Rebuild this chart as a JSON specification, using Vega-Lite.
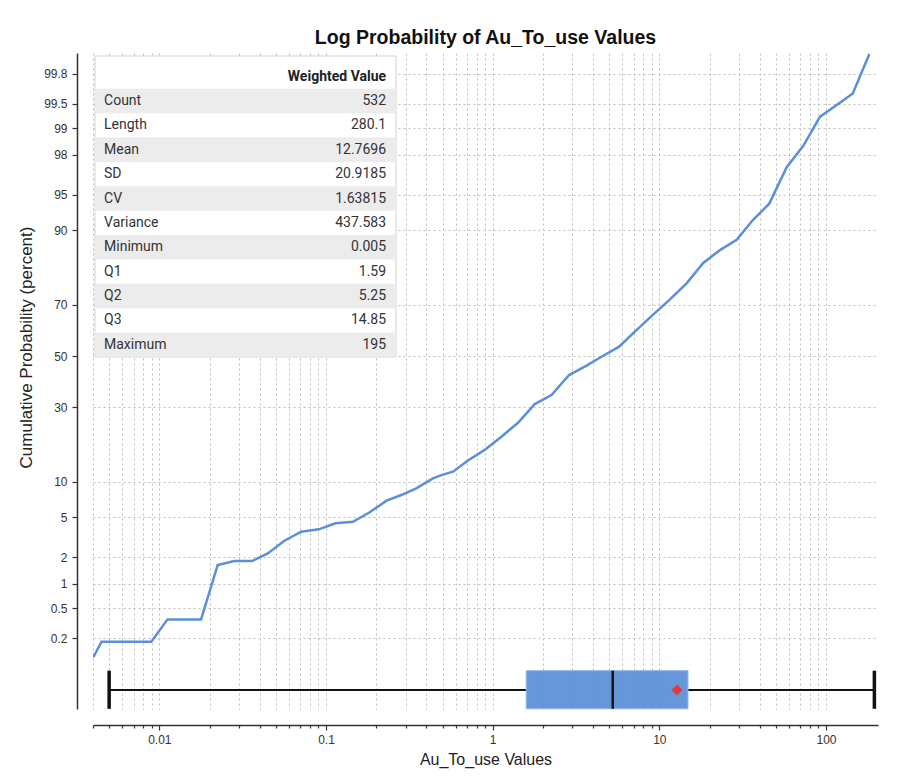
{
  "$schema": "https://vega.github.io/schema/vega-lite/v6.json",
  "width": 785,
  "height": 656,
  "autosize": {"type": "none"},
  "padding": {"left": 93, "top": 53, "right": 28, "bottom": 67},
  "background": "white",
  "title": {
    "text": "Log Probability of Au_To_use Values",
    "font": "Liberation Sans",
    "fontSize": 19.5,
    "fontWeight": "bold",
    "color": "#111111",
    "anchor": "middle",
    "frame": "group",
    "offset": 5
  },
  "datasets": {
    "cdf": [
      {"value": 0.00402, "pct": 0.106},
      {"value": 0.0045, "pct": 0.178},
      {"value": 0.00895, "pct": 0.178},
      {"value": 0.0112, "pct": 0.36},
      {"value": 0.0178, "pct": 0.36},
      {"value": 0.0224, "pct": 1.65},
      {"value": 0.0282, "pct": 1.82},
      {"value": 0.036, "pct": 1.82},
      {"value": 0.0447, "pct": 2.2},
      {"value": 0.0563, "pct": 2.97},
      {"value": 0.071, "pct": 3.65},
      {"value": 0.0905, "pct": 3.85},
      {"value": 0.114, "pct": 4.39},
      {"value": 0.145, "pct": 4.54},
      {"value": 0.181, "pct": 5.49},
      {"value": 0.231, "pct": 7.0},
      {"value": 0.283, "pct": 7.8},
      {"value": 0.348, "pct": 8.85},
      {"value": 0.438, "pct": 10.6},
      {"value": 0.492, "pct": 11.2},
      {"value": 0.578, "pct": 11.9},
      {"value": 0.711, "pct": 14.3},
      {"value": 0.895, "pct": 16.9},
      {"value": 1.128, "pct": 20.5},
      {"value": 1.419, "pct": 24.8},
      {"value": 1.788, "pct": 31.2},
      {"value": 2.253, "pct": 34.5},
      {"value": 2.873, "pct": 42.3},
      {"value": 3.569, "pct": 45.7},
      {"value": 4.497, "pct": 49.7},
      {"value": 5.736, "pct": 53.8},
      {"value": 7.127, "pct": 59.8},
      {"value": 9.104, "pct": 66.2},
      {"value": 11.45, "pct": 71.6},
      {"value": 14.57, "pct": 77.1},
      {"value": 18.33, "pct": 82.9},
      {"value": 23.09, "pct": 86.0},
      {"value": 29.09, "pct": 88.2},
      {"value": 36.29, "pct": 91.7},
      {"value": 45.65, "pct": 94.0},
      {"value": 58.07, "pct": 97.3},
      {"value": 73.06, "pct": 98.4},
      {"value": 92.04, "pct": 99.27},
      {"value": 115.9, "pct": 99.48},
      {"value": 144.7, "pct": 99.63},
      {"value": 182, "pct": 99.897}
    ],
    "stats": [
      {"stat": "Count", "value": 532},
      {"stat": "Length", "value": 280.1},
      {"stat": "Mean", "value": 12.7696},
      {"stat": "SD", "value": 20.9185},
      {"stat": "CV", "value": 1.63815},
      {"stat": "Variance", "value": 437.583},
      {"stat": "Minimum", "value": 0.005},
      {"stat": "Q1", "value": 1.59},
      {"stat": "Q2", "value": 5.25},
      {"stat": "Q3", "value": 14.85},
      {"stat": "Maximum", "value": 195}
    ]
  },
  "config": {
    "view": {"stroke": null},
    "axis": {
      "labelFont": "Liberation Sans",
      "labelFontSize": 12,
      "labelColor": "#333333",
      "titleFont": "Liberation Sans",
      "titleFontSize": 16,
      "titleFontWeight": "normal",
      "titleColor": "#222222",
      "domainColor": "#333333",
      "domainWidth": 1.5,
      "tickColor": "#333333",
      "tickWidth": 1.2,
      "gridColor": "#bdbdbd",
      "gridDash": [2, 3],
      "gridWidth": 1
    }
  },
  "resolve": {"scale": {"x": "independent", "y": "independent"}},
  "layer": [
    {
      "layer": [
        {
          "data": {"name": "cdf"},
          "transform": [
            {"calculate": "quantileNormal(datum.pct / 100)", "as": "z"}
          ],
          "mark": {"type": "line", "color": "#5b8fd9", "strokeWidth": 2.5, "clip": true},
          "encoding": {
            "x": {
              "field": "value",
              "type": "quantitative",
              "scale": {"type": "log", "domain": [0.004, 205], "nice": false},
              "axis": {
                "title": "Au_To_use Values",
                "values": [0.004, 0.005, 0.006, 0.007, 0.008, 0.009, 0.01, 0.02, 0.03, 0.04, 0.05, 0.06, 0.07, 0.08, 0.09, 0.1, 0.2, 0.3, 0.4, 0.5, 0.6, 0.7, 0.8, 0.9, 1, 2, 3, 4, 5, 6, 7, 8, 9, 10, 20, 30, 40, 50, 60, 70, 80, 90, 100],
                "labelExpr": "indexof([0.01, 0.1, 1, 10, 100], datum.value) >= 0 ? format(datum.value, '~g') : ''",
                "tickSize": {"condition": {"test": "indexof([0.01, 0.1, 1, 10, 100], datum.value) >= 0", "value": 5}, "value": 3},
                "labelOverlap": false,
                "labelFlush": false,
                "offset": 16,
                "labelPadding": 4,
                "titlePadding": 6,
                "grid": true
              }
            },
            "y": {
              "field": "z",
              "type": "quantitative",
              "scale": {"domain": [-3.602, 3.092], "nice": false, "zero": false},
              "axis": {
                "title": "Cumulative Probability (percent)",
                "titleFontSize": 17,
                "titleY": 294,
                "values": [-2.8782, -2.5758, -2.3263, -2.0537, -1.6449, -1.2816, -0.5244, 0, 0.5244, 1.2816, 1.6449, 2.0537, 2.3263, 2.5758, 2.8782],
                "labelExpr": "format(cumulativeNormal(datum.value) * 100, '.1~f')",
                "offset": 16,
                "tickSize": 5,
                "labelPadding": 5,
                "titlePadding": 8,
                "grid": true
              }
            }
          }
        },
        {
          "data": {"name": "stats"},
          "transform": [{"pivot": "stat", "value": "value"}],
          "layer": [
            {
              "mark": {"type": "rule", "color": "#111111", "strokeWidth": 2},
              "encoding": {
                "x": {"field": "Minimum", "type": "quantitative"},
                "x2": {"field": "Q1"},
                "y": {"datum": -3.407, "type": "quantitative"}
              }
            },
            {
              "mark": {"type": "rule", "color": "#111111", "strokeWidth": 2},
              "encoding": {
                "x": {"field": "Q3", "type": "quantitative"},
                "x2": {"field": "Maximum"},
                "y": {"datum": -3.407, "type": "quantitative"}
              }
            },
            {
              "mark": {"type": "rect", "fill": "#5b8fd7", "fillOpacity": 0.93, "stroke": "#8db5ea", "strokeWidth": 1},
              "encoding": {
                "x": {"field": "Q1", "type": "quantitative"},
                "x2": {"field": "Q3"},
                "y": {"datum": -3.211, "type": "quantitative"},
                "y2": {"datum": -3.6}
              }
            },
            {
              "mark": {"type": "rule", "color": "#111111", "strokeWidth": 3.5},
              "encoding": {
                "x": {"field": "Minimum", "type": "quantitative"},
                "y": {"datum": -3.211, "type": "quantitative"},
                "y2": {"datum": -3.6}
              }
            },
            {
              "mark": {"type": "rule", "color": "#111111", "strokeWidth": 3.5},
              "encoding": {
                "x": {"field": "Maximum", "type": "quantitative"},
                "y": {"datum": -3.211, "type": "quantitative"},
                "y2": {"datum": -3.6}
              }
            },
            {
              "mark": {"type": "rule", "color": "#111111", "strokeWidth": 2.5},
              "encoding": {
                "x": {"field": "Q2", "type": "quantitative"},
                "y": {"datum": -3.211, "type": "quantitative"},
                "y2": {"datum": -3.6}
              }
            },
            {
              "mark": {"type": "point", "shape": "diamond", "filled": true, "color": "#e53935", "size": 120, "opacity": 1},
              "encoding": {
                "x": {"field": "Mean", "type": "quantitative"},
                "y": {"datum": -3.407, "type": "quantitative"}
              }
            }
          ]
        }
      ]
    },
    {
      "layer": [
        {
          "data": {"values": [{}]},
          "mark": {"type": "rect", "fill": "white", "stroke": "#d2d2d2", "strokeWidth": 1},
          "encoding": {
            "x": {"datum": 0, "type": "quantitative", "scale": {"domain": [0, 1], "range": [2, 303], "nice": false, "padding": 0}, "axis": null},
            "x2": {"datum": 1},
            "y": {"datum": -0.844, "type": "quantitative", "scale": {"domain": [-0.844, 11.5], "range": [3, 304], "nice": false, "zero": false, "padding": 0}, "axis": null},
            "y2": {"datum": 11.5}
          }
        },
        {
          "data": {"name": "stats"},
          "transform": [
            {"window": [{"op": "row_number", "as": "row"}]},
            {"filter": "datum.row % 2 == 1"}
          ],
          "mark": {"type": "bar", "orient": "horizontal", "size": 24.4, "color": "#ececec"},
          "encoding": {
            "x": {"datum": 0, "type": "quantitative"},
            "x2": {"datum": 1},
            "y": {"field": "row", "type": "quantitative"}
          }
        },
        {
          "data": {"name": "stats"},
          "transform": [{"window": [{"op": "row_number", "as": "row"}]}],
          "mark": {"type": "text", "align": "left", "baseline": "middle", "font": "Roboto", "fontSize": 14, "color": "#333333"},
          "encoding": {
            "x": {"datum": 0.03, "type": "quantitative"},
            "y": {"field": "row", "type": "quantitative"},
            "text": {"field": "stat", "type": "nominal"}
          }
        },
        {
          "data": {"name": "stats"},
          "transform": [{"window": [{"op": "row_number", "as": "row"}]}],
          "mark": {"type": "text", "align": "right", "baseline": "middle", "font": "Roboto", "fontSize": 14, "color": "#333333"},
          "encoding": {
            "x": {"datum": 0.967, "type": "quantitative"},
            "y": {"field": "row", "type": "quantitative"},
            "text": {"field": "value", "type": "nominal"}
          }
        },
        {
          "data": {"values": [{"header": "Weighted Value"}]},
          "mark": {"type": "text", "align": "right", "baseline": "middle", "font": "Roboto", "fontSize": 14, "fontWeight": "bold", "color": "#222222"},
          "encoding": {
            "x": {"datum": 0.967, "type": "quantitative"},
            "y": {"datum": 0, "type": "quantitative"},
            "text": {"field": "header", "type": "nominal"}
          }
        }
      ]
    }
  ]
}
